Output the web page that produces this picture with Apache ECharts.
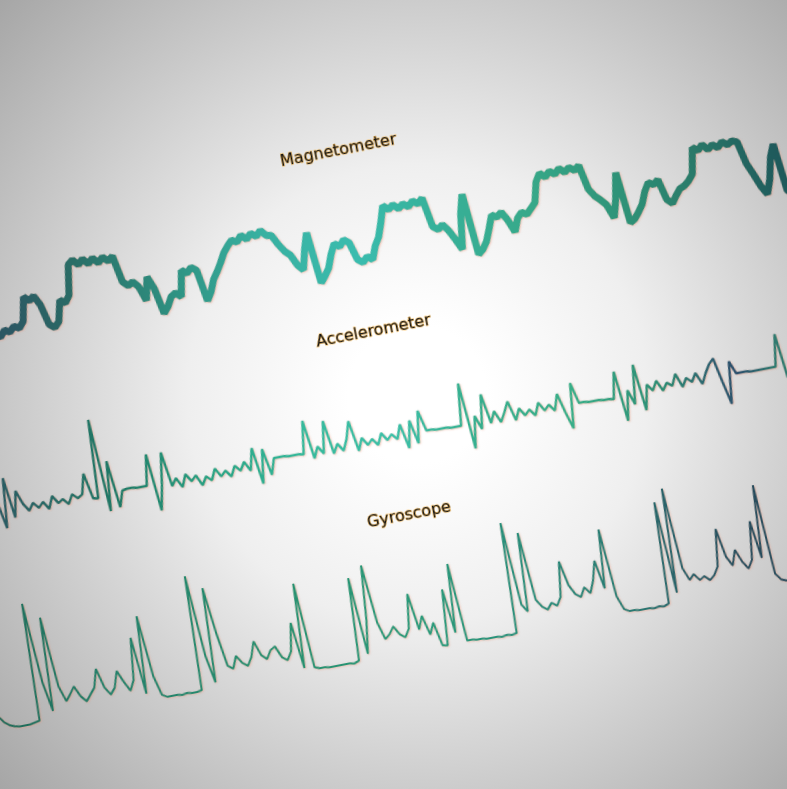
<!DOCTYPE html>
<html><head><meta charset="utf-8">
<script src="https://cdn.jsdelivr.net/npm/echarts@6/dist/echarts.min.js"></script>
<style>
html,body{margin:0;padding:0;width:787px;height:789px;overflow:hidden;
background:radial-gradient(circle farthest-corner at 53% 50%, #ffffff 0%, #ffffff 12%, #efefef 40%, #a6a6a6 100%);}
#chart{position:absolute;width:1200px;height:1000px;left:-206.5px;top:-105.5px;transform:rotate(-11deg);transform-origin:50% 50%;}
</style></head>
<body><div id="chart"></div>
<script>
// sample index (time axis)
const samples = Array.from({length: 185}, (_, i) => String(i));

const titles = ['Magnetometer', 'Accelerometer', 'Gyroscope'];

const magnetometer = [
 132,128,133,129,134,130,135,131,137,133,
 138,134,131,127,132,128,134,130,135,132,
 138,135,140,137,143,167,162,166,156,135,
 131,136,157,153,160,190,194,188,193,187,
 192,186,191,186,190,163,158,161,155,140,
 163,150,124,130,139,142,137,163,159,164,
 160,128,136,148,155,163,172,178,183,180,
 186,181,186,182,187,181,180,170,162,157,
 146,140,160,176,124,130,137,150,160,156,
 162,158,140,136,141,137,150,158,172,188,
 183,187,182,186,182,187,183,188,158,154,
 158,151,141,130,165,184,122,126,133,145,
 158,155,159,150,137,150,155,152,157,162,
 182,190,185,190,186,191,186,190,186,190,
 165,157,152,146,132,150,176,124,127,133,
 140,152,160,157,161,140,135,142,148,150,
 154,160,186,182,187,181,185,181,186,182,
 185,183,160,148,135,126,140,162,174,126,
 122,128,124,130,126
];

const accelerometer = [
 -38,-44,-36,-45,-40,-33,-47,-39,-42,-35,
 -46,-41,-30,-57,-7,-48,-22,-36,-44,-37,
 -43,-38,-46,-34,-42,-39,-45,-36,-41,-38,
 -18,-44,-45,34,-60,-10,-58,-42,-41,-41,
 -42,-42,-42,-11,-69,-44,-12,-47,-40,-50,
 -38,-46,-41,-52,-44,-49,-38,-47,-42,-49,
 -39,-45,-37,-47,-25,-62,-28,-55,-39,-39,
 -39,-40,-40,-40,-41,-8,-47,-36,-44,-12,
 -46,-37,-45,-34,-17,-48,-36,-44,-39,-46,
 -35,-43,-38,-44,-30,-55,-28,-52,-20,-41,
 -41,-42,-42,-42,-43,-43,-43,-1,-68,-36,
 -50,-16,-46,-35,-47,-38,-28,-48,-37,-45,
 -40,-47,-35,-44,-39,-46,-30,-50,-67,-22,
 -43,-43,-44,-44,-44,-45,-45,-46,-19,-70,
 -40,-55,-16,-63,-38,-45,-36,-47,-40,-44,
 -33,-47,-39,-44,-36,-48,-38,-30,-25,-50,
 -73,-31,-44,-44,-44,-45,-45,-45,-45,-45,
 -45,-13,-58,-42,-46,-40,-44,-38,-47,-41,
 -45,-39,-43,-40,-44
];

const gyroscope = [
 70,48,34,26,20,13,9,7,6,6,
 6,7,8,126,45,15,109,38,22,28,
 35,24,18,24,30,48,28,20,26,42,
 30,20,30,72,14,92,30,10,7,7,
 7,6,7,6,6,7,122,40,12,107,
 60,26,22,34,26,22,30,45,30,25,
 33,36,24,20,28,56,9,94,8,6,
 6,5,5,5,5,5,4,6,89,11,
 45,99,40,22,26,33,24,20,28,62,
 25,38,18,29,5,4,60,15,84,5,
 5,4,4,3,3,3,2,3,2,3,
 114,30,22,101,32,24,20,26,22,30,
 65,40,30,26,35,28,40,59,30,89,
 20,6,3,3,2,2,2,1,2,1,
 3,105,12,117,35,22,27,20,23,18,
 22,30,67,38,28,43,30,22,30,68,
 30,103,12,5,3,3,2,3,2,3,
 3,2,3,40,90,30,15,8,5,4,
 3,3,2,3,2
];

const chart = echarts.init(document.getElementById('chart'), null, {renderer: 'canvas'});
const G = echarts.graphic.LinearGradient;
const titleStyle = {fontFamily: 'DejaVu Sans', fontSize: 16, fontWeight: 'normal', color: '#141414',
  textBorderColor: 'rgba(245,175,60,0.9)', textBorderWidth: 1};
const shadow = {shadowColor: 'rgba(235,140,110,0.5)', shadowBlur: 2, shadowOffsetX: 0.8, shadowOffsetY: 0.8};

const grids = [
  {left: 130, right: 150, top: 305, height: 80},
  {left: 130, right: 150, top: 465, height: 110},
  {left: 130, right: 150, top: 630, height: 130}
];
const yRanges = [[115, 195], [-75, 35], [0, 130]];

chart.setOption({
  animation: false,
  backgroundColor: 'transparent',
  title: titles.map((t, i) => ({text: t, left: 587, textAlign: 'center', top: [237, 421, 608][i],
    textStyle: titleStyle})),
  grid: grids,
  xAxis: grids.map((g, i) => ({type: 'category', gridIndex: i, data: samples, boundaryGap: false, show: false})),
  yAxis: yRanges.map((r, i) => ({type: 'value', gridIndex: i, min: r[0], max: r[1], show: false})),
  series: [
    {type: 'line', xAxisIndex: 0, yAxisIndex: 0, data: magnetometer, symbol: 'none', silent: true,
     lineStyle: Object.assign({width: 7, join: 'bevel', color: new G(0, 0, 1, 0, [
       {offset: 0, color: '#2a4f5e'}, {offset: 0.12, color: '#2b5863'}, {offset: 0.2, color: '#2a6e66'},
       {offset: 0.3, color: '#2f9282'}, {offset: 0.4, color: '#38b0a0'}, {offset: 0.5, color: '#3abcae'},
       {offset: 0.6, color: '#37b098'}, {offset: 0.7, color: '#37a888'}, {offset: 0.8, color: '#2e9076'},
       {offset: 0.88, color: '#2a7868'}, {offset: 0.96, color: '#1f5b5c'}, {offset: 1, color: '#1f5558'}])}, shadow)},
    {type: 'line', xAxisIndex: 1, yAxisIndex: 1, data: accelerometer, symbol: 'none', silent: true,
     lineStyle: Object.assign({width: 2.4, color: new G(0, 0, 1, 0, [
       {offset: 0, color: '#2a4f5c'}, {offset: 0.07, color: '#2b5b62'}, {offset: 0.2, color: '#1f7a66'},
       {offset: 0.3, color: '#28a283'}, {offset: 0.4, color: '#34b89a'}, {offset: 0.5, color: '#3cc0a8'},
       {offset: 0.6, color: '#36ad8c'}, {offset: 0.7, color: '#38ae88'}, {offset: 0.8, color: '#2c8a72'},
       {offset: 0.86, color: '#2d5a6e'}, {offset: 0.88, color: '#2c4f6c'}, {offset: 0.92, color: '#2f7a6f'},
       {offset: 1, color: '#2f7a6f'}])}, shadow)},
    {type: 'line', xAxisIndex: 2, yAxisIndex: 2, data: gyroscope, symbol: 'none', silent: true,
     lineStyle: Object.assign({width: 2, color: new G(0, 0, 1, 0, [
       {offset: 0, color: '#1f5e52'}, {offset: 0.03, color: '#1f6a58'}, {offset: 0.15, color: '#23806a'},
       {offset: 0.35, color: '#27906f'}, {offset: 0.5, color: '#2a9a7a'}, {offset: 0.62, color: '#2a8c7a'},
       {offset: 0.72, color: '#2a7a72'}, {offset: 0.78, color: '#2a6068'}, {offset: 0.85, color: '#284c5c'},
       {offset: 1, color: '#284c5c'}])}, shadow)}
  ]
});
</script>
</body></html>
